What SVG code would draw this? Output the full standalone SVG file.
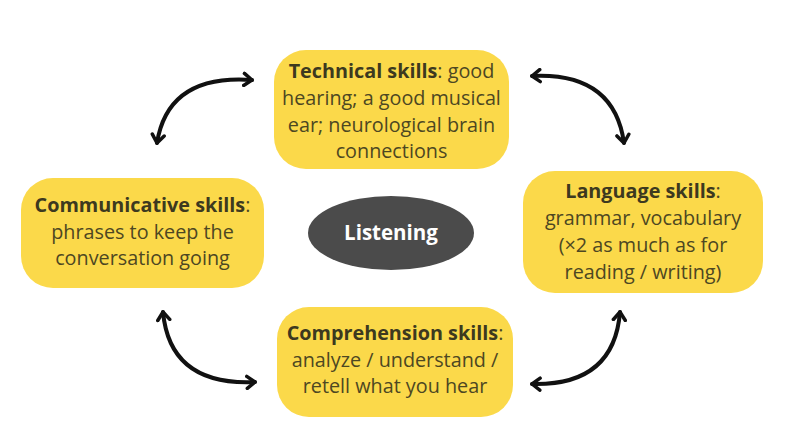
<svg xmlns="http://www.w3.org/2000/svg" width="787" height="447" viewBox="0 0 787 447">
<style>
.box{fill:#fbd94a;}
.t{font-family:"Open Sans","Liberation Sans",sans-serif;font-size:19.8px;fill:#4d4722;text-anchor:middle;}
.b{font-weight:bold;fill:#3d391f;}
.arr{fill:none;stroke:#111;stroke-width:4;stroke-linecap:round;marker-start:url(#ah);marker-end:url(#ah);}
</style>
<defs>
<marker id="ah" viewBox="-10 -8 12 16" refX="0" refY="0" markerWidth="12" markerHeight="16" markerUnits="userSpaceOnUse" orient="auto-start-reverse">
<path d="M-8,-6 L0,0 L-8,6" fill="none" stroke="#111" stroke-width="3.5" stroke-linecap="round" stroke-linejoin="round"/>
</marker>
</defs>
<rect width="787" height="447" fill="#fff"/>
<g id="connectors">
<path class="arr" d="M157,143 Q168,74 252,80"/>
<path class="arr" d="M532,76 Q614,72 624,143"/>
<path class="arr" d="M163,312 Q170,386 255,382"/>
<path class="arr" d="M532,384 Q614,386 620,312"/>
</g>
<g id="technical">
<rect class="box" x="274" y="50" width="235" height="119" rx="32"/>
<text class="t" x="391.5" y="78"><tspan class="b">Technical skills</tspan>: good</text>
<text class="t" x="391.5" y="105">hearing; a good musical</text>
<text class="t" x="391.5" y="131.5">ear; neurological brain</text>
<text class="t" x="391.5" y="158">connections</text>
</g>
<g id="communicative">
<rect class="box" x="21" y="178" width="243" height="110" rx="32"/>
<text class="t" x="142.5" y="212"><tspan class="b">Communicative skills</tspan>:</text>
<text class="t" x="142.5" y="238.5">phrases to keep the</text>
<text class="t" x="142.5" y="265">conversation going</text>
</g>
<g id="language">
<rect class="box" x="523" y="171" width="240" height="122" rx="32"/>
<text class="t" x="643" y="198"><tspan class="b">Language skills</tspan>:</text>
<text class="t" x="643" y="225">grammar, vocabulary</text>
<text class="t" x="643" y="252">(×2 as much as for</text>
<text class="t" x="643" y="278.5">reading / writing)</text>
</g>
<g id="comprehension">
<rect class="box" x="277" y="307" width="236" height="110" rx="32"/>
<text class="t" x="395" y="340"><tspan class="b">Comprehension skills</tspan>:</text>
<text class="t" x="395" y="367">analyze / understand /</text>
<text class="t" x="395" y="393">retell what you hear</text>
</g>
<g id="listening">
<ellipse cx="391" cy="233" rx="83" ry="37" fill="#4b4b4b"/>
<text class="t" x="391" y="240" style="fill:#fff;font-weight:bold;font-size:20.5px">Listening</text>
</g>
</svg>
